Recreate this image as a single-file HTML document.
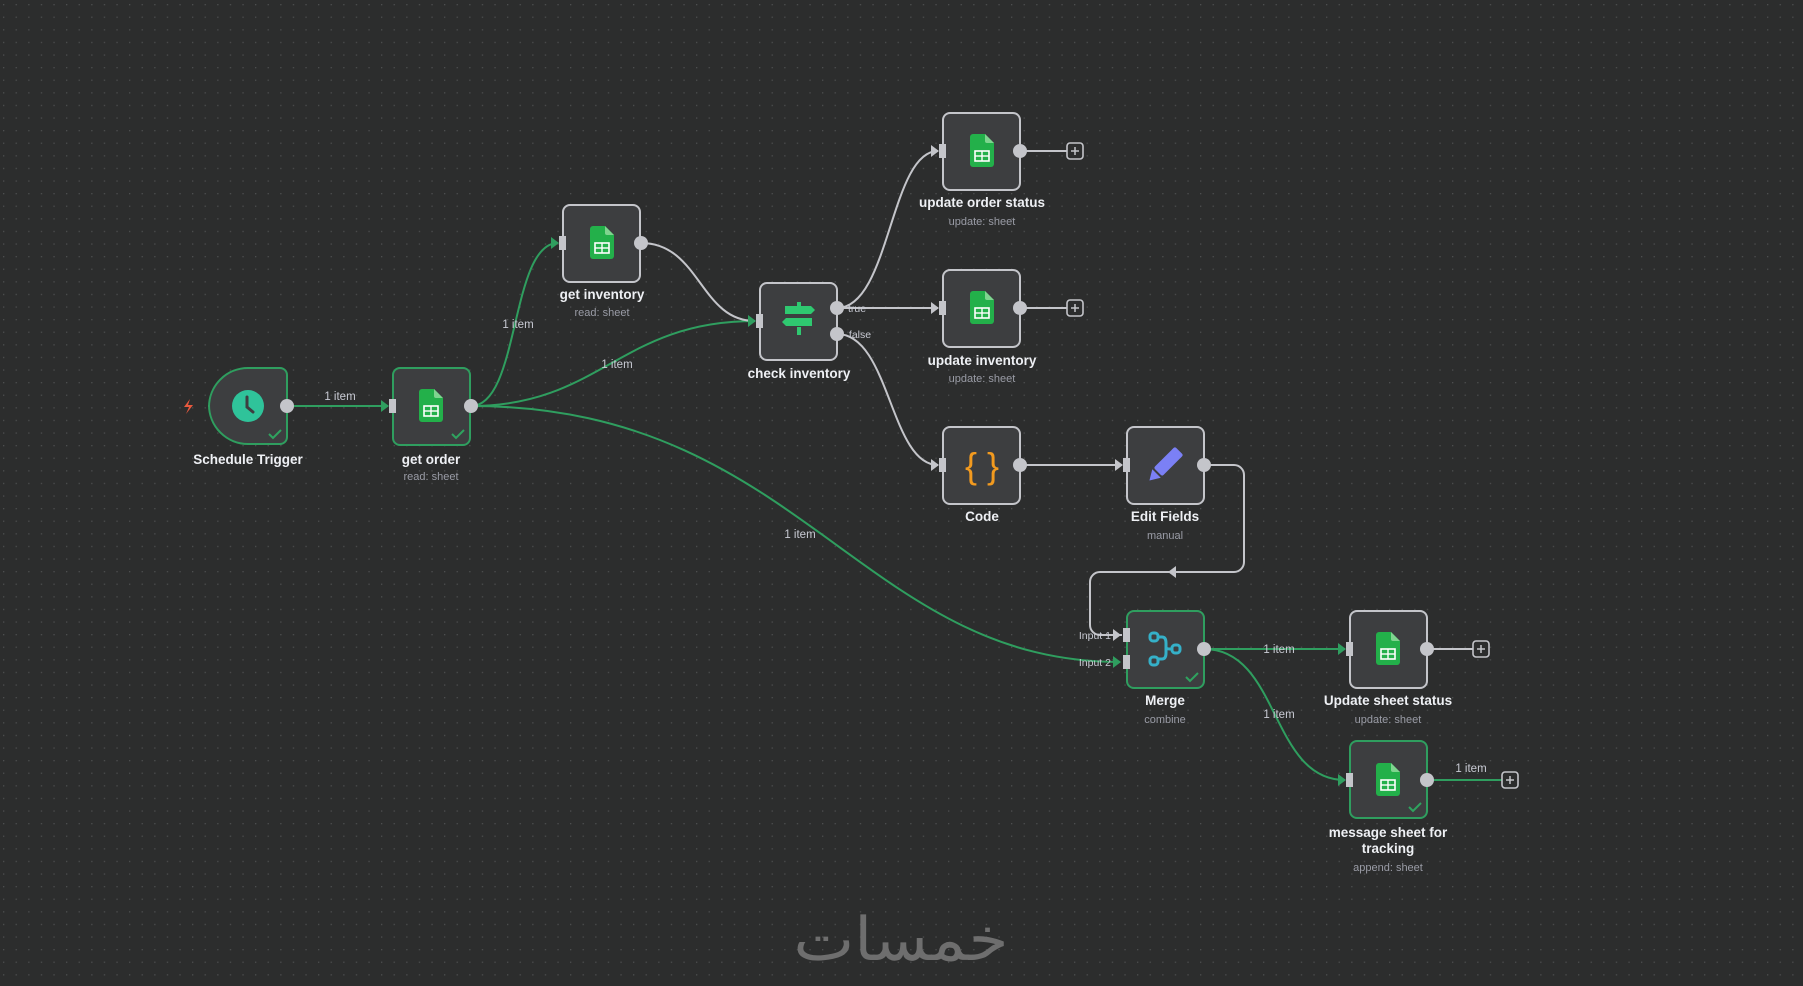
<!DOCTYPE html>
<html><head><meta charset="utf-8"><style>
html,body{margin:0;padding:0;width:1803px;height:986px;overflow:hidden;background:#2c2d2d;}
svg{display:block}
text{font-family:"Liberation Sans",sans-serif;}
</style></head><body>
<svg width="1803" height="986" viewBox="0 0 1803 986" xmlns="http://www.w3.org/2000/svg">
<defs>
<pattern id="dots" x="3" y="4" width="12.6" height="12.6" patternUnits="userSpaceOnUse">
<rect x="0" y="0" width="1.3" height="1.3" fill="#4d4e4f"/></pattern>
<g id="sheet">
<path d="M-12,-14 a3,3 0 0 1 3,-3 h12 l9,9 v21 a3,3 0 0 1 -3,3 h-18 a3,3 0 0 1 -3,-3 z" fill="#23b04a"/>
<path d="M3,-17 l9,9 h-7 a2,2 0 0 1 -2,-2 z" fill="#7fd48f"/>
<rect x="-7" y="0" width="14" height="10" fill="none" stroke="#fff" stroke-width="1.6"/>
<line x1="-7" y1="5" x2="7" y2="5" stroke="#fff" stroke-width="1.4"/>
<line x1="0" y1="0" x2="0" y2="10" stroke="#fff" stroke-width="1.4"/>
</g>
<g id="inh"><rect x="-4" y="-7" width="7" height="14" fill="#c4c5ca"/></g>
<g id="check"><path d="M-7,0 l4,4 l8,-8" fill="none" stroke="#2fa35f" stroke-width="2"/></g>
</defs>
<rect width="1803" height="986" fill="url(#dots)"/>

<!-- edges -->
<g fill="none" stroke-width="2">
<g stroke="#2f9e5f">
<path d="M287,406 L388,406"/>
<path d="M471,406 C520,406 510,243 558,243"/>
<path d="M471,406 C600,406 620,321 755,321"/>
<path d="M471,406 C800,406 860,662 1120,662"/>
<path d="M1204,649 L1345,649"/>
<path d="M1204,649 C1280,649 1270,780 1345,780"/>
<path d="M1427,780 L1502,780"/>
</g>
<g stroke="#c4c5ca">
<path d="M641,243 C700,243 700,321 755,321"/>
<path d="M837,308 C890,308 890,151 938,151"/>
<path d="M837,308 L938,308"/>
<path d="M837,334 C890,334 890,465 938,465"/>
<path d="M1020,465 L1122,465"/>
<path d="M1204,465 H1234 a10,10 0 0 1 10,10 V562 a10,10 0 0 1 -10,10 H1100 a10,10 0 0 0 -10,10 V625 a10,10 0 0 0 10,10 H1122"/>
<path d="M1020,151 L1067,151"/>
<path d="M1020,308 L1067,308"/>
<path d="M1427,649 L1473,649"/>
</g>
</g>
<!-- arrowheads -->
<g fill="#2f9e5f">
<path d="M381,400 l8,6 l-8,6z"/><path d="M551,237 l8,6 l-8,6z"/><path d="M748,315 l8,6 l-8,6z"/>
<path d="M1113,656 l8,6 l-8,6z"/><path d="M1338,643 l8,6 l-8,6z"/><path d="M1338,774 l8,6 l-8,6z"/>
</g>
<g fill="#c4c5ca">
<path d="M931,145 l8,6 l-8,6z"/><path d="M931,302 l8,6 l-8,6z"/><path d="M931,459 l8,6 l-8,6z"/>
<path d="M1115,459 l8,6 l-8,6z"/><path d="M1113,629 l8,6 l-8,6z"/><path d="M1176,566 l-8,6 l8,6z"/>
</g>
<!-- plus boxes -->
<g fill="#2c2d2d" stroke="#c4c5ca" stroke-width="1.6">
<rect x="1067" y="143" width="16" height="16" rx="3"/><rect x="1067" y="300" width="16" height="16" rx="3"/>
<rect x="1473" y="641" width="16" height="16" rx="3"/><rect x="1502" y="772" width="16" height="16" rx="3"/>
</g>
<g stroke="#c4c5ca" stroke-width="1.5">
<path d="M1071,151h8M1075,147v8M1071,308h8M1075,304v8M1477,649h8M1481,645v8M1506,780h8M1510,776v8"/>
</g>
<!-- edge labels -->
<g font-size="11.5" fill="#c9cbd4" text-anchor="middle">
<text x="340" y="400">1 item</text><text x="518" y="328">1 item</text><text x="617" y="368">1 item</text>
<text x="800" y="538">1 item</text><text x="1279" y="653">1 item</text><text x="1279" y="718">1 item</text>
<text x="1471" y="772">1 item</text>
<text x="857" y="312" font-size="10.5">true</text><text x="860" y="338" font-size="10.5">false</text>
</g>
<g font-size="10.5" fill="#c9cbd4" text-anchor="end">
<text x="1111" y="639">Input 1</text><text x="1111" y="666">Input 2</text>
</g>

<!-- nodes -->
<g stroke-width="2">
<path d="M248,368 H280 a7,7 0 0 1 7,7 V437 a7,7 0 0 1 -7,7 H248 a39,39 0 0 1 -39,-39 V407 a39,39 0 0 1 39,-39z" fill="#3d3e40" stroke="#2f9e5f"/>
<rect x="393" y="368" width="77" height="77" rx="7" fill="#3d3e40" stroke="#2f9e5f"/>
<rect x="563" y="205" width="77" height="77" rx="7" fill="#3d3e40" stroke="#c4c5ca"/>
<rect x="760" y="283" width="77" height="77" rx="7" fill="#3d3e40" stroke="#c4c5ca"/>
<rect x="943" y="113" width="77" height="77" rx="7" fill="#3d3e40" stroke="#c4c5ca"/>
<rect x="943" y="270" width="77" height="77" rx="7" fill="#3d3e40" stroke="#c4c5ca"/>
<rect x="943" y="427" width="77" height="77" rx="7" fill="#3d3e40" stroke="#c4c5ca"/>
<rect x="1127" y="427" width="77" height="77" rx="7" fill="#3d3e40" stroke="#c4c5ca"/>
<rect x="1127" y="611" width="77" height="77" rx="7" fill="#3d3e40" stroke="#2f9e5f"/>
<rect x="1350" y="611" width="77" height="77" rx="7" fill="#3d3e40" stroke="#c4c5ca"/>
<rect x="1350" y="741" width="77" height="77" rx="7" fill="#3d3e40" stroke="#2f9e5f"/>
</g>
<!-- handles -->
<g fill="#c4c5ca">
<circle cx="287" cy="406" r="7"/><circle cx="471" cy="406" r="7"/><circle cx="641" cy="243" r="7"/>
<circle cx="837" cy="308" r="7"/><circle cx="837" cy="334" r="7"/>
<circle cx="1020" cy="151" r="7"/><circle cx="1020" cy="308" r="7"/><circle cx="1020" cy="465" r="7"/>
<circle cx="1204" cy="465" r="7"/><circle cx="1204" cy="649" r="7"/><circle cx="1427" cy="649" r="7"/><circle cx="1427" cy="780" r="7"/>
</g>
<use href="#inh" x="393" y="406"/><use href="#inh" x="563" y="243"/><use href="#inh" x="760" y="321"/>
<use href="#inh" x="943" y="151"/><use href="#inh" x="943" y="308"/><use href="#inh" x="943" y="465"/>
<use href="#inh" x="1127" y="465"/><use href="#inh" x="1127" y="635"/><use href="#inh" x="1127" y="662"/>
<use href="#inh" x="1350" y="649"/><use href="#inh" x="1350" y="780"/>
<!-- checks -->
<use href="#check" x="276" y="434"/><use href="#check" x="459" y="434"/><use href="#check" x="1193" y="677"/><use href="#check" x="1416" y="807"/>
<!-- trigger bolt -->
<path d="M190,399 l-6,8 h5 l-3,7 l7,-9 h-5 z" fill="#e8593e"/>
<!-- icons -->
<circle cx="248" cy="406" r="16" fill="#2fc39a"/>
<path d="M247,397 V407 l6,5" fill="none" stroke="#3d3e40" stroke-width="3" stroke-linecap="round"/>
<use href="#sheet" x="431" y="406"/><use href="#sheet" x="602" y="243"/>
<use href="#sheet" x="982" y="151"/><use href="#sheet" x="982" y="308"/>
<use href="#sheet" x="1388" y="649"/><use href="#sheet" x="1388" y="780"/>
<g fill="#2fc870">
<path d="M785,306 h26 l4,4 l-4,4 h-26z"/><path d="M812,318 h-26 l-4,4 l4,4 h26z"/>
<rect x="797" y="302" width="4" height="4"/><rect x="797" y="327" width="4" height="8"/>
</g>
<text x="982" y="478" font-size="36" fill="#f29a1f" text-anchor="middle">{ }</text>
<g transform="translate(1165,465) rotate(45)"><rect x="-6" y="-18" width="12" height="28" fill="#7b80f5" rx="2"/><path d="M-6,12 h12 l-6,10z" fill="#7b80f5"/><rect x="-6" y="-20" width="12" height="6" rx="2" fill="#7b80f5"/></g>
<g fill="none" stroke="#35b0c8" stroke-width="3">
<rect x="1150" y="633" width="8" height="8" rx="3"/><rect x="1150" y="657" width="8" height="8" rx="3"/><rect x="1172" y="645" width="8" height="8" rx="3"/>
<path d="M1158,637 h4 q4,0 4,6 v4 q0,2 4,2 h2 M1166,647 v6 q0,6 -4,6 h-4"/>
</g>
<!-- node labels -->
<g font-size="13.5" font-weight="bold" fill="#eef0f4" text-anchor="middle">
<text x="248" y="464">Schedule Trigger</text><text x="431" y="464">get order</text>
<text x="602" y="299">get inventory</text><text x="799" y="378">check inventory</text>
<text x="982" y="207">update order status</text><text x="982" y="365">update inventory</text>
<text x="982" y="521">Code</text><text x="1165" y="521">Edit Fields</text>
<text x="1165" y="705">Merge</text><text x="1388" y="705">Update sheet status</text>
<text x="1388" y="837">message sheet for</text><text x="1388" y="853">tracking</text>
</g>
<g font-size="11" fill="#9a9ca6" text-anchor="middle">
<text x="431" y="480">read: sheet</text><text x="602" y="316">read: sheet</text>
<text x="982" y="225">update: sheet</text><text x="982" y="382">update: sheet</text>
<text x="1165" y="539">manual</text><text x="1165" y="723">combine</text>
<text x="1388" y="723">update: sheet</text><text x="1388" y="871">append: sheet</text>
</g>
<text x="901" y="960" font-size="60" fill="#6e6e6e" text-anchor="middle" font-family="'DejaVu Sans',sans-serif" textLength="215" lengthAdjust="spacingAndGlyphs">خمسات</text>
</svg>
</body></html>
